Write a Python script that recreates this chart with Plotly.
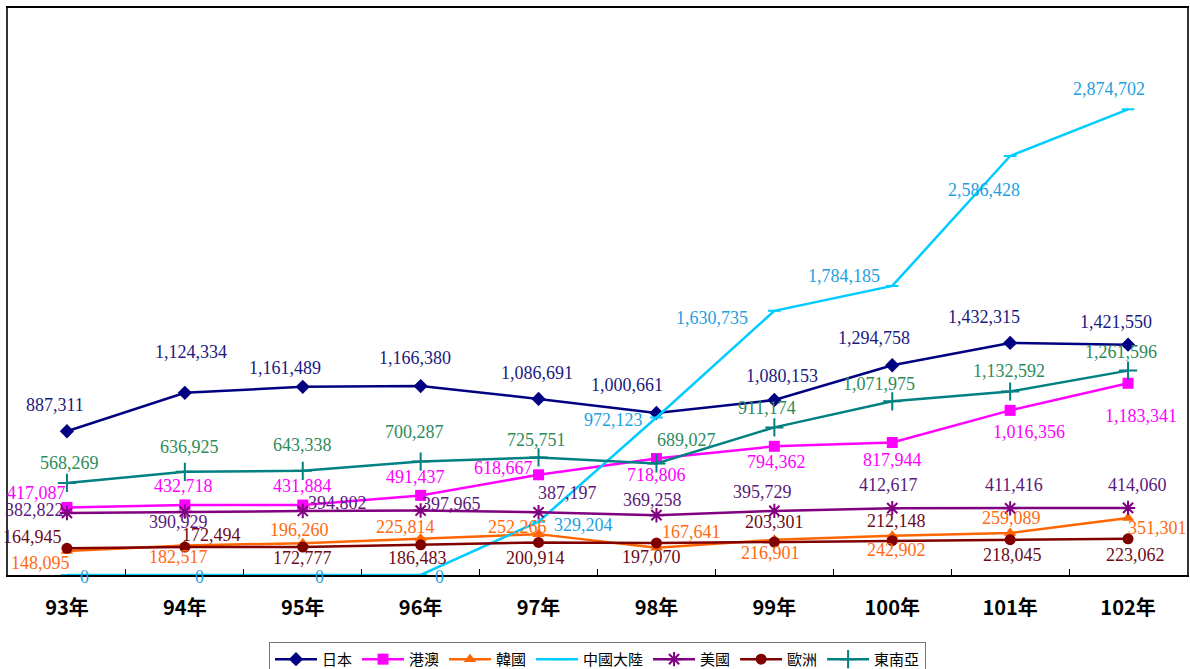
import plotly.graph_objects as go

years = ["93年", "94年", "95年", "96年", "97年", "98年", "99年", "100年", "101年", "102年"]

japan = [887311, 1124334, 1161489, 1166380, 1086691, 1000661, 1080153, 1294758, 1432315, 1421550]
hkmacau = [417087, 432718, 431884, 491437, 618667, 718806, 794362, 817944, 1016356, 1183341]
korea = [148095, 182517, 196260, 225814, 252266, 167641, 216901, 242902, 259089, 351301]
china = [0, 0, 0, 0, 329204, 972123, 1630735, 1784185, 2586428, 2874702]
usa = [382822, 390929, 394802, 397965, 387197, 369258, 395729, 412617, 411416, 414060]
europe = [164945, 172494, 172777, 186483, 200914, 197070, 203301, 212148, 218045, 223062]
sea = [568269, 636925, 643338, 700287, 725751, 689027, 911174, 1071975, 1132592, 1261596]

# label offsets in pixels (dx, dy) per point
off_japan = [(-12, 26), (6, 41), (-18, 19), (-6, 28), (-2, 26), (-29, 28), (8, 24), (-18, 27), (-26, 26), (-12, 23)]
off_hk = [(-30, 14), (-1, 19), (0, 19), (-5, 18), (-35, 7), (0, -16), (2, -16), (0, -18), (19, -22), (13, -33)]
off_korea = [(-26, -12), (-6, -12), (-3, 13), (-15, 11), (-21, 7), (35, 16), (-4, -13), (4, -14), (1, 15), (29, -10)]
off_china = [(18, -2), (15, -2), (17, -2), (19, -2), (45, -3), (-43, -2), (-62, -7), (-48, 10), (-26, -34), (-19, 20)]
off_usa = [(-32, 3), (-6, -10), (35, 8), (31, 7), (29, 19), (-4, 15), (-12, 19), (-4, 23), (4, 23), (9, 23)]
off_europe = [(-34, 11), (27, 12), (0, -11), (-3, -13), (-3, -16), (-5, -14), (0, 20), (4, 20), (2, -15), (7, -16)]
off_sea = [(3, 20), (5, 25), (0, 26), (-6, 30), (-2, 17), (30, 23), (-7, 19), (-13, 17), (-1, 21), (-7, 19)]

series = [
    ("日本", japan, "#000080", "#1a1a80", "diamond", 11, off_japan),
    ("港澳", hkmacau, "#FF00FF", "#FF00FF", "square", 11, off_hk),
    ("韓國", korea, "#FF6600", "#FF6A10", "triangle-up", 11, off_korea),
    ("中國大陸", china, "#00CCFF", "#1E9FE0", "line-ew", 9, off_china),
    ("美國", usa, "#800080", "#5a1a7a", "asterisk", 12, off_usa),
    ("歐洲", europe, "#800000", "#6b0a1a", "circle", 11, off_europe),
    ("東南亞", sea, "#008080", "#2e8b5a", "cross-thin", 13, off_sea),
]

fig = go.Figure()
annotations = []
for name, vals, color, tcolor, sym, msize, offs in series:
    line_sym = sym in ("line-ew", "asterisk", "cross-thin")
    fig.add_trace(go.Scatter(
        x=years, y=vals, name=name, mode="lines+markers",
        line=dict(color=color, width=2.5),
        marker=dict(symbol=sym, size=msize, color=color,
                    line=dict(color=color, width=2 if line_sym else 0)),
    ))
    for xv, yv, (dx, dy) in zip(years, vals, offs):
        annotations.append(dict(
            x=xv, y=yv, xref="x", yref="y", text=f"{yv:,}", showarrow=False,
            xshift=dx, yshift=dy,
            font=dict(family="Liberation Serif, DejaVu Serif, serif", size=18, color=tcolor),
        ))

fig.update_layout(
    width=1190, height=669,
    margin=dict(l=8, r=3, t=8, b=94, autoexpand=False),
    paper_bgcolor="white", plot_bgcolor="white",
    showlegend=True,
    annotations=annotations,
    legend=dict(
        orientation="h", x=0.5, xanchor="center", y=-0.118, yanchor="top",
        bordercolor="#777777", borderwidth=1,
        font=dict(family="Noto Sans CJK TC, sans-serif", size=15, color="#000000"),
        itemwidth=42, tracegroupgap=0,
    ),
    xaxis=dict(
        type="category", range=[-0.5, 9.5], automargin=False,
        showline=True, linecolor="#000000", linewidth=2, mirror=True,
        ticks="inside", tickson="boundaries", ticklen=6, tickcolor="#000000",
        showgrid=False, zeroline=False,
        tickfont=dict(family="Liberation Sans Narrow, Noto Sans CJK TC, sans-serif", size=20, color="#000000", weight="bold"),
        ticklabelstandoff=14,
    ),
    yaxis=dict(
        range=[0, 3500000], showticklabels=False, ticks="", automargin=False,
        showline=True, linecolor="#333333", linewidth=2, mirror=True,
        showgrid=False, zeroline=False,
    ),
)

fig.write_html(
    "out.html",
    config={"displayModeBar": False},
    post_script="document.body.style.margin='0';document.body.style.overflow='hidden';",
)
